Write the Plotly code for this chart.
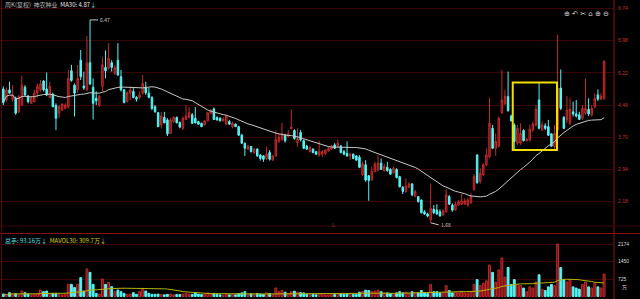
import plotly.graph_objects as go
import pandas as pd

# ---- weekly OHLC ----
opens = [4.84,4.58,4.82,4.60,4.62,4.30,4.46,4.88,4.67,4.50,
         4.54,4.74,4.82,5.03,4.84,4.64,4.71,4.45,4.27,4.34,
         4.38,4.42,5.27,4.93,4.82,5.52,4.91,4.82,5.46,4.88,
         4.62,4.46,4.90,5.35,5.33,5.46,5.21,5.52,5.13,4.82,
         4.54,4.74,4.78,4.64,4.64,4.74,4.88,4.74,4.64,4.42,
         4.28,3.99,4.17,4.11,3.79,4.07,4.17,4.05,3.91,4.12,
         4.17,4.23,4.15,4.07,4.03,3.99,4.09,4.27,4.37,4.17,
         4.15,4.09,4.01,4.07,3.95,4.01,3.95,3.75,3.56,3.42,
         3.48,3.34,3.42,3.28,3.26,3.20,3.34,3.16,3.26,3.60,
         3.65,3.75,3.73,3.90,3.86,3.57,3.81,3.62,3.49,3.36,
         3.42,3.36,3.28,3.30,3.32,3.38,3.42,3.52,3.48,3.49,
         3.36,3.32,3.26,3.30,3.26,3.23,2.81,3.05,2.79,2.69,
         2.89,2.93,3.09,2.91,2.99,2.94,2.86,2.94,2.77,2.52,
         2.42,2.52,2.60,2.31,2.30,2.22,1.94,1.89,1.75,2.00,
         1.98,1.94,1.87,1.94,2.30,2.10,1.98,2.10,2.12,2.12,
         2.10,2.16,2.46,3.28,2.65,2.81,3.05,3.24,3.91,3.44,
         3.49,4.28,4.49,4.66,4.20,3.99,3.56,3.56,3.86,3.62,
         3.64,3.87,3.99,4.58,3.87,3.97,3.95,3.78,3.48,3.87,
         4.86,4.17,4.11,4.03,4.30,4.25,4.23,4.15,4.27,4.36,
         4.23,4.42,4.70,4.60,4.62]
highs = [4.90,4.88,5.01,4.93,4.66,4.70,5.15,4.93,4.70,4.67,
         4.82,4.97,5.05,5.05,5.23,5.01,4.75,4.50,4.46,4.50,
         4.50,5.29,5.41,4.97,5.41,5.76,5.25,6.09,6.47,5.09,
         4.78,4.70,5.60,5.75,5.92,5.52,5.41,5.92,5.29,4.83,
         4.78,4.90,4.86,4.67,4.78,5.17,5.01,4.86,4.67,4.46,
         4.30,4.30,4.30,4.15,4.15,4.20,4.19,4.07,4.19,4.46,
         4.41,4.27,4.41,4.09,4.04,4.11,4.30,4.36,4.40,4.19,
         4.17,4.17,4.23,4.11,4.07,4.03,3.97,3.78,3.57,3.52,
         3.49,3.44,3.44,3.30,3.28,3.48,3.40,3.28,3.86,3.79,
         4.04,3.78,3.87,4.36,3.89,3.91,3.87,3.65,3.52,3.49,
         3.44,3.38,3.62,3.40,3.41,3.48,3.52,3.56,3.65,3.52,
         3.40,3.60,3.34,3.32,3.28,3.28,3.12,3.16,2.81,3.01,
         3.12,3.28,3.20,3.07,3.12,2.97,3.01,2.97,2.79,2.55,
         2.73,2.63,2.61,2.46,2.31,2.23,1.98,1.92,2.61,2.10,
         2.12,2.00,2.00,2.47,2.34,2.14,2.18,2.22,2.36,2.26,
         2.26,2.38,2.83,3.30,2.97,3.09,3.44,4.62,3.99,3.79,
         4.19,5.29,4.82,5.25,4.23,4.03,3.99,4.03,3.89,3.68,
         3.99,4.07,4.46,4.99,4.07,4.03,4.11,3.79,3.99,6.12,
         5.30,4.20,4.67,4.62,4.54,4.58,4.30,4.46,5.09,4.62,
         4.46,4.74,4.83,4.74,5.51]
lows = [4.46,4.54,4.73,4.54,4.23,4.27,4.44,4.67,4.50,4.49,
        4.52,4.64,4.78,4.78,4.67,4.62,4.41,3.87,4.15,4.33,
        4.36,4.38,5.01,4.19,4.75,5.05,4.82,4.78,4.93,4.12,
        4.46,4.42,4.78,5.09,5.30,5.25,5.17,5.15,4.78,4.50,
        4.52,4.58,4.62,4.54,4.60,4.70,4.70,4.62,4.34,4.28,
        3.94,3.91,4.03,3.73,3.78,4.04,4.03,3.91,3.87,4.11,
        4.15,4.01,4.03,3.99,3.94,3.97,4.07,4.23,4.11,4.09,
        4.07,4.07,3.99,3.99,3.91,3.94,3.73,3.54,3.26,3.40,
        3.34,3.30,3.24,3.15,3.12,3.16,3.15,3.15,3.24,3.57,
        3.62,3.57,3.70,3.89,3.64,3.48,3.60,3.42,3.40,3.34,
        3.32,3.28,3.24,3.23,3.28,3.36,3.40,3.42,3.46,3.32,
        3.28,3.24,3.16,3.18,3.15,2.97,2.79,2.65,2.20,2.68,
        2.87,2.89,2.93,2.89,2.89,2.81,2.85,2.73,2.52,2.36,
        2.39,2.50,2.31,2.28,2.16,1.90,1.87,1.81,1.68,1.89,
        1.87,1.83,1.84,1.92,2.10,1.94,1.97,2.08,2.10,2.10,
        2.06,2.12,2.44,2.60,2.61,2.79,3.02,3.20,3.42,3.26,
        3.46,4.25,4.46,4.30,4.07,3.40,3.52,3.52,3.60,3.60,
        3.60,3.83,3.95,3.89,3.86,3.87,3.73,3.48,3.40,3.83,
        4.34,3.89,4.04,3.99,4.19,4.17,4.11,4.11,4.23,4.20,
        4.19,4.38,4.56,4.58,4.58]
closes = [4.52,4.82,4.74,4.70,4.27,4.66,4.93,4.70,4.54,4.62,
          4.74,4.90,4.96,4.82,4.70,4.90,4.42,4.15,4.42,4.48,
          4.46,5.09,5.04,4.74,5.09,5.13,4.86,5.45,4.96,4.50,
          4.56,4.67,5.41,5.27,5.56,5.35,5.35,5.17,4.82,4.52,
          4.75,4.82,4.64,4.60,4.70,4.97,4.75,4.64,4.38,4.30,
          3.95,4.20,4.04,3.78,4.11,4.17,4.04,3.94,4.15,4.20,
          4.28,4.03,4.04,4.01,3.95,4.08,4.28,4.34,4.12,4.11,
          4.09,4.13,4.20,4.01,4.03,3.95,3.75,3.56,3.44,3.49,
          3.36,3.42,3.26,3.20,3.18,3.30,3.18,3.26,3.65,3.70,
          3.78,3.62,3.78,3.94,3.67,3.67,3.64,3.44,3.42,3.46,
          3.34,3.30,3.36,3.36,3.40,3.44,3.48,3.44,3.56,3.34,
          3.30,3.26,3.30,3.20,3.16,2.99,3.07,2.69,2.68,2.89,
          3.07,3.09,2.94,3.01,2.91,2.83,2.97,2.75,2.53,2.42,
          2.55,2.60,2.34,2.42,2.18,1.92,1.89,1.84,2.02,1.92,
          1.89,1.84,1.96,2.34,2.12,1.98,2.12,2.18,2.20,2.20,
          2.22,2.30,2.77,2.63,2.85,3.05,3.28,4.03,3.44,3.60,
          4.15,4.58,4.67,4.33,4.09,3.60,3.91,3.79,3.62,3.65,
          3.89,4.01,4.36,3.91,3.99,3.91,3.75,3.49,3.79,4.86,
          4.38,3.91,4.34,4.36,4.25,4.20,4.12,4.38,4.38,4.25,
          4.38,4.62,4.60,4.67,5.49]
# weekly volume, 万手
volumes = [103,60,159,100,120,70,228,159,103,70,
           80,100,269,200,228,130,131,131,80,70,
           90,504,504,370,504,780,228,1140,1000,504,
           131,100,725,504,587,407,200,269,200,131,
           90,100,159,90,200,338,228,131,90,90,
           100,80,70,90,100,70,80,80,100,130,
           100,90,160,100,80,90,150,120,130,80,
           70,60,110,70,80,70,120,150,200,90,
           110,80,120,100,90,150,120,80,350,200,
           250,180,120,200,220,180,160,150,90,80,
           90,70,120,80,70,70,80,80,110,120,
           80,110,90,90,80,180,200,260,250,200,
           220,260,200,150,150,120,110,150,200,150,
           180,120,200,150,150,250,150,120,500,200,
           200,150,150,450,250,150,180,150,200,150,
           150,200,500,700,450,550,650,1300,1000,600,
           1100,1600,800,1200,500,700,500,450,350,200,
           400,350,600,900,300,250,400,500,450,2174,
           1200,700,600,700,400,350,300,500,600,400,
           350,550,400,350,930]

price_ticks = [6.74, 5.98, 5.22, 4.46, 3.70, 2.94, 2.18]
vol_ticks = [725, 1450, 2174]

idx = list(range(len(opens)))
ma30 = pd.Series(closes).rolling(30, min_periods=1).mean()
mavol30 = pd.Series(volumes).rolling(30, min_periods=1).mean()
up = [c >= o for o, c in zip(opens, closes)]
RED_LINE, RED_FILL, CYAN = '#c42a2a', '#6a0d0d', '#54f4f4'
bar_fill = [RED_FILL if u else CYAN for u in up]
bar_line = [RED_LINE if u else CYAN for u in up]

W, H = 640, 299
xr = [-1.07, 197.2]

fig = go.Figure()
fig.add_trace(go.Candlestick(
    x=idx, open=opens, high=highs, low=lows, close=closes,
    increasing=dict(line=dict(color=RED_LINE, width=1), fillcolor=RED_FILL),
    decreasing=dict(line=dict(color=CYAN, width=1), fillcolor=CYAN),
    whiskerwidth=0, showlegend=False, hoverinfo='skip'))
fig.add_trace(go.Scatter(x=idx, y=ma30, mode='lines',
                         line=dict(color='#c8c8c8', width=1), showlegend=False))
fig.add_trace(go.Bar(x=idx, y=volumes, yaxis='y2', width=0.6,
                     marker=dict(color=bar_fill, line=dict(color=bar_line, width=1)),
                     showlegend=False))
fig.add_trace(go.Scatter(x=idx, y=mavol30, yaxis='y2', mode='lines',
                         line=dict(color='#b4b400', width=1), showlegend=False))

xd = 614 / W
fig.update_layout(
    width=W, height=H, margin=dict(l=0, r=0, t=0, b=0),
    paper_bgcolor='black', plot_bgcolor='black',
    xaxis=dict(domain=[0, xd], range=xr, showticklabels=False, showgrid=False,
               zeroline=False, rangeslider=dict(visible=False), fixedrange=True),
    yaxis=dict(domain=[1 - 233 / H, 1], range=[1.44, 6.94], side='right',
               tickvals=price_ticks, ticktext=[f'{v:.2f}' for v in price_ticks],
               tickfont=dict(color='#c83030', size=5, family='Liberation Sans'),
               gridcolor='#3a0606', gridwidth=1, zeroline=False, ticks='',
               ticklabelstandoff=3),
    yaxis2=dict(domain=[0, 1 - 234 / H], range=[-103, 2588], side='right',
                tickvals=vol_ticks, ticktext=[str(v) for v in vol_ticks],
                tickfont=dict(color='#d8d8d8', size=5, family='Liberation Sans'),
                gridcolor='#3a0606', gridwidth=1, zeroline=False, ticks='',
                ticklabelstandoff=3, anchor='x'),
    bargap=0.4,
    font=dict(family='Noto Sans CJK SC'),
)

shapes = [
    dict(type='line', xref='paper', yref='paper', x0=xd, x1=xd, y0=0, y1=1,
         line=dict(color='#8a1212', width=1)),
    dict(type='line', xref='paper', yref='paper', x0=1.5 / W, x1=1.5 / W, y0=0, y1=1,
         line=dict(color='#5a0a0a', width=1)),
    dict(type='line', xref='paper', yref='paper', x0=0, x1=1, y0=1 - 233.5 / H, y1=1 - 233.5 / H,
         line=dict(color='#8a1212', width=1)),
    dict(type='line', xref='paper', yref='paper', x0=0, x1=1, y0=1 - 226 / H, y1=1 - 226 / H,
         line=dict(color='#3a0606', width=1)),
    # yellow highlight box
    dict(type='rect', xref='x', yref='y', x0=164.5, x1=178.8, y0=3.40, y1=4.99,
         line=dict(color='#f0e000', width=2), fillcolor='rgba(0,0,0,0)'),
]
fig.update_layout(shapes=shapes)

hi_i = max(idx, key=lambda i: highs[i])
lo_i = min(idx, key=lambda i: lows[i])
ann = [
    dict(xref='paper', yref='paper', x=3 / W, y=1 - 5 / H, xanchor='left', yanchor='middle',
         showarrow=False, font=dict(size=6, color='#b8b8b8'),
         text="周K(复权)  神农种业  <span style='color:#e8e8e8'>MA30: 4.87</span>"
              "<span style='color:#40e0e0'>↓</span>"),
    dict(xref='paper', yref='paper', x=3 / W, y=1 - 240 / H, xanchor='left', yanchor='middle',
         showarrow=False, font=dict(size=6, color='#40e0e0'),
         text="总手: 93.16万↓  <span style='color:#d8d800'>MAVOL30: 309.7万↓</span>"),
    dict(xref='x', yref='y', x=hi_i, y=highs[hi_i], ax=8, ay=0, showarrow=True,
         arrowhead=0, arrowwidth=1, arrowcolor='#c8c8c8', xanchor='left',
         text=f'{highs[hi_i]:.2f}', font=dict(size=5, color='#d0d0d0')),
    dict(xref='x', yref='y', x=lo_i, y=lows[lo_i], ax=8, ay=2, showarrow=True,
         arrowhead=0, arrowwidth=1, arrowcolor='#c8c8c8', xanchor='left',
         text=f'{lows[lo_i]:.2f}', font=dict(size=5, color='#d0d0d0')),
    dict(xref='paper', yref='paper', x=333 / W, y=1 - 230 / H, showarrow=False,
         text='L', font=dict(size=5, color='#c83030')),
    dict(xref='paper', yref='paper', x=620 / W, y=1 - 293 / H, xanchor='left', showarrow=False,
         text='万', font=dict(size=5, color='#d8d8d8')),
    dict(xref='paper', yref='paper', x=562 / W, y=1 - 8 / H, xanchor='left', showarrow=False,
         text='⊕ ↶ ✂ ⌂ ⊕ ⊖', font=dict(size=7, color='#d8d8d8', family='DejaVu Sans')),
]
fig.update_layout(annotations=ann)

fig.write_html('out.html')
